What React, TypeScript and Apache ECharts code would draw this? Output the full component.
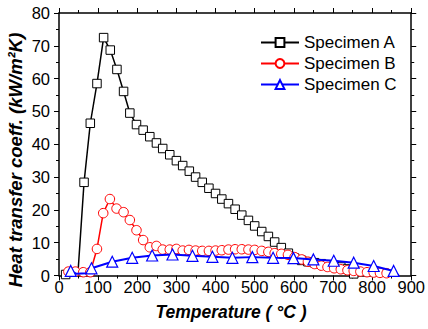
import React, { useEffect, useRef } from "react";
import * as echarts from "echarts";

const xTicks = [0, 100, 200, 300, 400, 500, 600, 700, 800, 900];
const yTicks = [0, 10, 20, 30, 40, 50, 60, 70, 80];

const seriesNames = ["Specimen A", "Specimen B", "Specimen C"];
const xTitle = "Temperature ( °C )";
const yTitle = "Heat transfer coeff. (kW/m²K)";

const specimenA: [number, number][] = [
  [17, 0.3], [48, 0], [64, 28.4], [80, 46.4], [97, 58.5], [114, 72.5], [131, 68.7],
  [148, 62.8], [165, 56.1], [181, 49.5], [198, 46.0], [215, 44.3], [232, 42.3],
  [249, 40.4], [265, 38.7], [283, 36.8], [300, 35.0], [316, 33.5], [333, 31.8],
  [349, 30.0], [366, 28.4], [383, 26.6], [400, 25.0], [416, 23.3], [433, 21.9],
  [450, 20.2], [467, 18.4], [484, 16.8], [500, 15.1], [518, 13.4], [535, 11.9],
  [551, 10.2], [568, 8.5], [586, 6.8], [602, 5.3], [620, 4.6], [636, 4.2],
  [653, 3.9], [670, 3.6], [686, 3.3], [703, 3.0], [720, 2.6], [737, 2.0], [753, 0.5],
];
const specimenAUnmarked = [48];

const specimenB: [number, number][] = [
  [24, 1.2], [42, 1.2], [62, 1.0], [80, 1.0], [97, 8.1], [113, 19.0], [130, 23.3],
  [147, 20.4], [165, 19.3], [181, 16.9], [198, 13.8], [215, 10.8], [232, 8.6],
  [249, 9.0], [265, 7.9], [283, 7.9], [300, 8.1], [316, 7.6], [332, 7.8], [349, 7.6],
  [366, 7.5], [383, 7.5], [400, 7.6], [416, 7.7], [433, 7.9], [450, 8.0], [467, 8.0],
  [484, 7.9], [500, 7.8], [518, 7.5], [535, 7.2], [551, 6.8], [568, 6.6], [585, 6.3],
  [602, 5.6], [620, 4.9], [636, 4.2], [653, 3.5], [670, 3.0], [686, 2.6], [703, 2.2],
  [720, 1.9], [737, 1.6], [753, 1.4], [770, 1.2], [787, 1.0], [804, 0.9], [820, 0.8],
  [837, 0.7],
];

const specimenC: [number, number][] = [
  [30, 1.4], [45, 0.5], [70, 0.7], [83, 2.2], [136, 4.2], [187, 5.4], [238, 6.1],
  [290, 6.4], [341, 6.0], [392, 5.7], [443, 5.4], [494, 5.6], [547, 5.4], [599, 5.3],
  [650, 4.9], [702, 4.5], [753, 3.9], [804, 2.9], [855, 1.4], [868, 0],
];
const specimenCUnmarked = [45, 70, 868];

const FONT = "'Liberation Sans', Arial, sans-serif";

function toData(arr: [number, number][], unmarked: number[]) {
  return arr.map(([x, y]) =>
    unmarked.includes(x) ? { value: [x, y], symbol: "none" } : { value: [x, y] }
  );
}

export default function App() {
  const ref = useRef<HTMLDivElement>(null);
  useEffect(() => {
    if (!ref.current) return;
    const chart = echarts.init(ref.current, undefined, { renderer: "svg" });
    const axisCommon = {
      type: "value" as const,
      axisLine: { show: true, onZero: false, lineStyle: { color: "#000", width: 1.5 } },
      axisTick: { show: true, inside: false, length: 5, lineStyle: { color: "#000", width: 1 } },
      minorTick: { show: true, splitNumber: 2, length: 3, lineStyle: { color: "#000", width: 1 } },
      splitLine: { show: false },
    };
    chart.setOption({
      animation: false,
      backgroundColor: "#fff",
      grid: { left: 59, right: 15, top: 13, bottom: 53.5 },
      legend: {
        orient: "vertical",
        left: 260,
        top: 34,
        padding: 0,
        itemWidth: 38,
        itemHeight: 11,
        itemGap: 4,
        data: seriesNames,
        textStyle: { fontSize: 17, fontFamily: FONT, color: "#000" },
      },
      graphic: [
        {
          type: "text",
          x: 231,
          y: 312,
          style: {
            text: xTitle,
            fontSize: 17.5,
            fontWeight: "bold",
            fontStyle: "italic",
            fontFamily: FONT,
            fill: "#000",
            align: "center",
            verticalAlign: "middle",
          },
        },
        {
          type: "text",
          x: 15,
          y: 160,
          rotation: Math.PI / 2,
          style: {
            text: yTitle,
            fontSize: 18.5,
            fontWeight: "bold",
            fontStyle: "italic",
            fontFamily: FONT,
            fill: "#000",
            align: "center",
            verticalAlign: "middle",
          },
        },
      ],
      xAxis: [
        {
          ...axisCommon,
          position: "bottom",
          min: xTicks[0],
          max: xTicks[xTicks.length - 1],
          interval: 100,
          axisLabel: { fontSize: 16.5, fontFamily: FONT, color: "#000", margin: 3 },
        },
        {
          ...axisCommon,
          position: "top",
          min: xTicks[0],
          max: xTicks[xTicks.length - 1],
          interval: 100,
          axisLabel: { show: false },
        },
      ],
      yAxis: [
        {
          ...axisCommon,
          position: "left",
          min: yTicks[0],
          max: yTicks[yTicks.length - 1],
          interval: 10,
          axisLabel: { fontSize: 16.5, fontFamily: FONT, color: "#000", margin: 9 },
        },
        {
          ...axisCommon,
          position: "right",
          min: yTicks[0],
          max: yTicks[yTicks.length - 1],
          interval: 10,
          axisLabel: { show: false },
        },
      ],
      series: [
        {
          name: seriesNames[0],
          type: "line",
          data: toData(specimenA, specimenAUnmarked),
          symbol: "rect",
          symbolSize: 8.5,
          lineStyle: { color: "#000", width: 1.5 },
          itemStyle: { color: "#fff", borderColor: "#000", borderWidth: 1 },
          z: 2,
        },
        {
          name: seriesNames[1],
          type: "line",
          data: specimenB.map((d) => ({ value: d })),
          symbol: "circle",
          symbolSize: 9.5,
          lineStyle: { color: "#ff0000", width: 1.5 },
          itemStyle: { color: "#fff", borderColor: "#ff0000", borderWidth: 1 },
          z: 3,
        },
        {
          name: seriesNames[2],
          type: "line",
          data: toData(specimenC, specimenCUnmarked),
          symbol: "triangle",
          symbolSize: 11,
          lineStyle: { color: "#0000ff", width: 2 },
          itemStyle: { color: "#fff", borderColor: "#0000ff", borderWidth: 1.2 },
          z: 4,
        },
      ],
    });
    return () => chart.dispose();
  }, []);
  return (
    <div
      ref={ref}
      style={{ position: "fixed", left: 0, top: 0, width: 428, height: 329, background: "#fff" }}
    />
  );
}
